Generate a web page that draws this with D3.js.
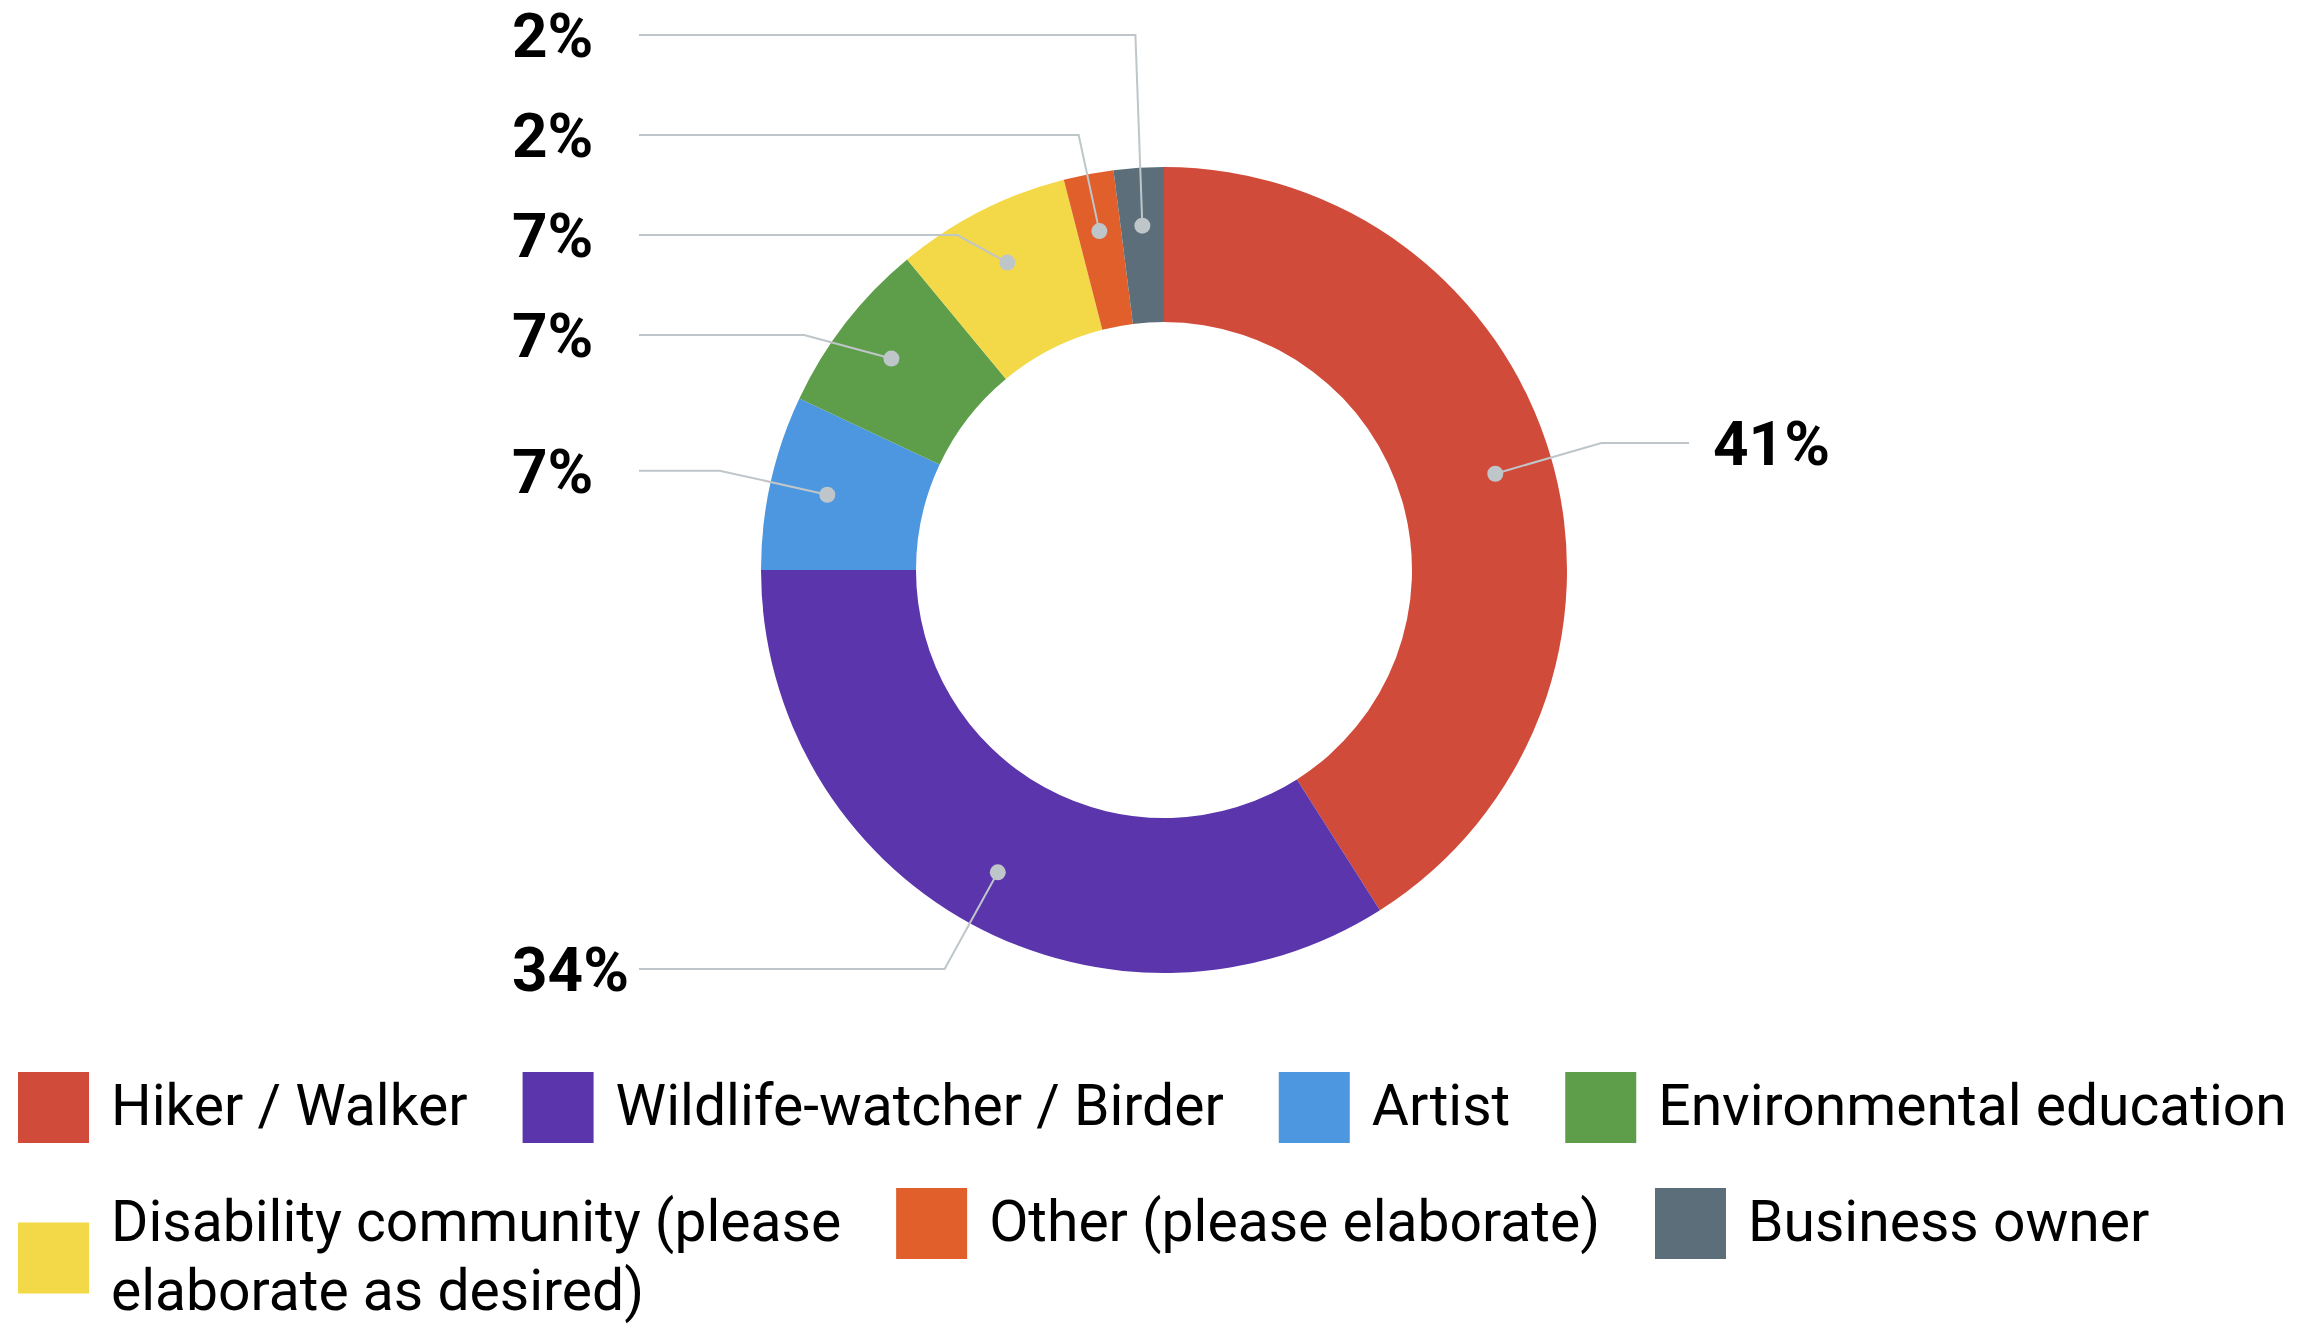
<!DOCTYPE html>
<html>
<head>
<meta charset="utf-8">
<script src="https://cdn.jsdelivr.net/npm/d3@7"></script>
<style>
  body { margin: 0; background: #fff; }
  text { font-family: Roboto, "Open Sans", sans-serif; }
</style>
</head>
<body>
<script>
// Donut of respondent types, labels on leader lines, legend underneath

const WIDTH = 2304
const HEIGHT = 1325

const categories = [
  "Hiker / Walker",
  "Wildlife-watcher / Birder",
  "Artist",
  "Environmental education",
  "Disability community (please elaborate as desired)",
  "Other (please elaborate)",
  "Business owner"
]
const shares = [41, 34, 7, 7, 7, 2, 2]
const shareLabels = ["41%", "34%", "7%", "7%", "7%", "2%", "2%"]
const colors = ["#d14b3a", "#5a35ab", "#4c97e0", "#5e9e4a", "#f3d947", "#e05f2b", "#5b6e7a"]

// donut geometry
const CX = 1164, CY = 570
const R_OUT = 403, R_IN = 248
const DOT_R = 345
const LABEL_R = R_OUT * 1.13
const LINE_END = 525      // horizontal end of leader lines, from centre
const LABEL_GAP = 100     // min vertical distance between stacked labels
const TOP_Y = 35
const LEFT_TEXT_X = 512
const LINE_COLOR = "#bfc6ca"

const svg = d3.select("body")
  .append("svg")
  .attr("width", WIDTH)
  .attr("height", HEIGHT)

const g = svg.append("g")
  .attr("transform", `translate(${CX},${CY})`)

const pie = d3.pie().sort(null).value(d => d)
const arcs = pie(shares)
const arc = d3.arc().innerRadius(R_IN).outerRadius(R_OUT)

g.selectAll(".slice")
  .data(arcs)
  .join("path")
  .attr("class", "slice")
  .attr("d", arc)
  .attr("fill", (d, i) => colors[i])

// label positions: start on an outer ring, then push apart on each side
const dotArc = d3.arc().innerRadius(DOT_R).outerRadius(DOT_R)
const labelArc = d3.arc().innerRadius(LABEL_R).outerRadius(LABEL_R)

const nodes = arcs.map((a, i) => {
  const [dx, dy] = dotArc.centroid(a)
  const [lx, ly] = labelArc.centroid(a)
  return { i, dx, dy, lx, y: ly, side: lx < 0 ? -1 : 1 }
})

;[-1, 1].forEach(side => {
  const s = nodes.filter(n => n.side === side).sort((a, b) => a.y - b.y)
  for (let k = s.length - 2; k >= 0; k--) s[k].y = Math.min(s[k].y, s[k + 1].y - LABEL_GAP)
  for (let k = 0; k < s.length; k++) {
    s[k].y = Math.max(s[k].y, k ? s[k - 1].y + LABEL_GAP : TOP_Y - CY)
  }
})

g.selectAll(".leader")
  .data(nodes)
  .join("path")
  .attr("class", "leader")
  .attr("d", n => `M${n.dx},${n.dy}L${n.lx},${n.y}L${n.side * LINE_END},${n.y}`)
  .attr("fill", "none")
  .attr("stroke", LINE_COLOR)
  .attr("stroke-width", 2)

g.selectAll(".dot")
  .data(nodes)
  .join("circle")
  .attr("class", "dot")
  .attr("cx", n => n.dx)
  .attr("cy", n => n.dy)
  .attr("r", 8)
  .attr("fill", LINE_COLOR)

g.selectAll(".pct")
  .data(nodes)
  .join("text")
  .attr("class", "pct")
  .attr("x", n => n.side < 0 ? LEFT_TEXT_X - CX : LINE_END + 24)
  .attr("y", n => n.y + 22)
  .style("font-size", "62px")
  .style("font-weight", 700)
  .attr("fill", "#000")
  .text(n => shareLabels[n.i])

// legend, flowing left to right and wrapping
const LEG_X = 18, LEG_Y = 1072
const SW = 71, SW_GAP = 22, ITEM_GAP = 55
const ROW_H = 116, LINE_H = 69, MAX_TEXT = 760

const legend = svg.append("g").attr("class", "legend")
let x = LEG_X, rowTop = LEG_Y, rowLines = 1

categories.forEach((c, i) => {
  const item = legend.append("g")
  const text = item.append("text")
    .style("font-size", "57px")
    .attr("fill", "#000")

  // wrap words into lines no wider than MAX_TEXT
  const words = c.split(" ")
  const lines = []
  let cur = []
  const probe = text.append("tspan")
  words.forEach(w => {
    probe.text([...cur, w].join(" "))
    if (cur.length && probe.node().getComputedTextLength() > MAX_TEXT) {
      lines.push(cur.join(" "))
      cur = [w]
    } else {
      cur.push(w)
    }
  })
  lines.push(cur.join(" "))
  probe.remove()

  const spans = text.selectAll("tspan")
    .data(lines)
    .join("tspan")
    .attr("x", 0)
    .attr("dy", (d, k) => k ? LINE_H : 0)
    .text(d => d)
  const textW = d3.max(spans.nodes(), n => n.getComputedTextLength())
  const itemW = SW + SW_GAP + textW

  if (x > LEG_X && x + itemW > WIDTH) {
    x = LEG_X
    rowTop += ROW_H + (rowLines - 1) * LINE_H
    rowLines = 1
  }
  rowLines = Math.max(rowLines, lines.length)

  item.attr("transform", `translate(${x},${rowTop})`)
  item.append("rect")
    .attr("x", 0)
    .attr("y", (lines.length - 1) * LINE_H / 2)
    .attr("width", SW)
    .attr("height", SW)
    .attr("fill", colors[i])
  text.attr("transform", `translate(${SW + SW_GAP},53)`)

  x += itemW + ITEM_GAP
})
</script>
</body>
</html>
